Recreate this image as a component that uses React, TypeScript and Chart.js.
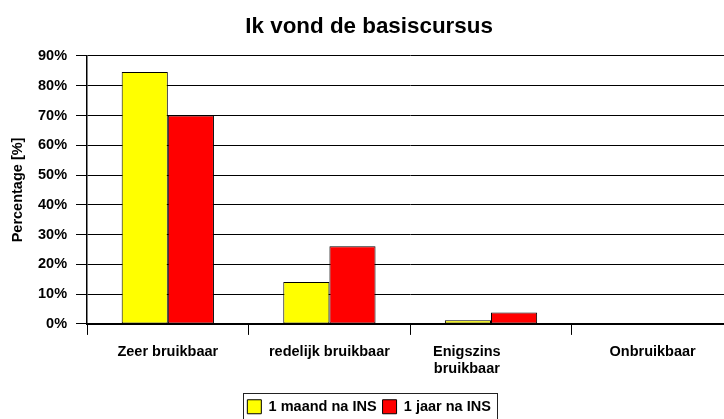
import React, { useEffect, useRef } from "react";
import { Chart, registerables } from "chart.js";

Chart.register(...registerables);

const chartTitle = "Ik vond de basiscursus";
const yAxisTitle = "Percentage [%]";
const categories: (string | string[])[] = [
  "Zeer bruikbaar",
  "redelijk bruikbaar",
  ["Enigszins            ", "bruikbaar            "],
  "Onbruikbaar",
];
const seriesNames = ["1 maand na INS", "1 jaar na INS"];
const maandValues = [84.6, 14.1, 1.2, 0];
const jaarValues = [70.0, 26.1, 3.8, 0];
const yMin = 0;
const yMax = 90;
const yStep = 10;

const FONT = "'Liberation Sans', Arial, sans-serif";

const legendBorder = {
  id: "legendBorder",
  afterDraw(chart: any) {
    const lg = chart.legend;
    if (!lg || !lg.legendHitBoxes || !lg.legendHitBoxes.length) return;
    const hb = lg.legendHitBoxes;
    const first = hb[0];
    const last = hb[hb.length - 1];
    const x0 = first.left - 4.5;
    const x1 = last.left + last.width + 6;
    const y0 = first.top - 7;
    const ctx = chart.ctx;
    ctx.save();
    ctx.strokeStyle = "#222";
    ctx.lineWidth = 1;
    ctx.strokeRect(Math.round(x0) + 0.5, Math.round(y0) + 0.5, Math.round(x1 - x0), 40);
    ctx.restore();
  },
};

export default function App() {
  const ref = useRef<HTMLCanvasElement | null>(null);
  useEffect(() => {
    if (!ref.current) return;
    const chart = new Chart(ref.current, {
      type: "bar",
      data: {
        labels: categories,
        datasets: [
          {
            label: seriesNames[0],
            data: maandValues,
            backgroundColor: "#FFFF00",
            borderColor: "#000000",
            borderWidth: 1,
            borderSkipped: false,
          },
          {
            label: seriesNames[1],
            data: jaarValues,
            backgroundColor: "#FF0000",
            borderColor: "#000000",
            borderWidth: 1,
            borderSkipped: false,
          },
        ],
      },
      options: {
        responsive: false,
        animation: false,
        devicePixelRatio: 1,
        datasets: { bar: { categoryPercentage: 0.571, barPercentage: 1 } },
        layout: { padding: { left: 4.8, right: 9.6, top: 0, bottom: 0 } },
        plugins: {
          title: {
            display: true,
            text: chartTitle,
            color: "#000",
            font: { family: FONT, size: 22.4, weight: "bold" },
            padding: { top: 13.5, bottom: 15.6 },
          },
          legend: {
            display: true,
            position: "bottom",
            labels: {
              color: "#000",
              font: { family: FONT, size: 14.5, weight: "bold" },
              boxWidth: 14,
              boxHeight: 14,
              padding: 6,
            },
          },
          tooltip: { enabled: false },
        },
        scales: {
          x: {
            offset: true,
            grid: {
              display: true,
              drawOnChartArea: false,
              drawTicks: true,
              tickLength: 11,
              offset: true,
              color: "#000",
              lineWidth: 1,
            },
            border: { display: true, color: "#000", width: 2 },
            ticks: {
              color: "#000",
              font: { family: FONT, size: 14.5, weight: "bold" },
              padding: 8,
              maxRotation: 0,
              autoSkip: false,
            },
            afterFit: (s: any) => {
              s.height += 7.8;
            },
          },
          y: {
            min: yMin,
            max: yMax,
            grid: {
              display: true,
              drawOnChartArea: true,
              drawTicks: true,
              tickLength: 11,
              color: "#000",
              lineWidth: 1,
            },
            border: { display: true, color: "#000", width: 1.5 },
            ticks: {
              stepSize: yStep,
              color: "#000",
              font: { family: FONT, size: 14.5, weight: "bold" },
              padding: 9,
              callback: (v: any) => v + "%",
            },
            title: {
              display: true,
              text: yAxisTitle,
              color: "#000",
              font: { family: FONT, size: 14.5, weight: "bold" },
              padding: { top: 4, bottom: 2.8 },
            },
          },
        },
      },
      plugins: [legendBorder],
    });
    return () => chart.destroy();
  }, []);
  return (
    <div
      style={{
        position: "fixed",
        left: 0,
        top: 0,
        width: 724,
        height: 419,
        overflow: "hidden",
        background: "#fff",
      }}
    >
      <canvas ref={ref} width={743} height={424.5} style={{ display: "block" }} />
    </div>
  );
}
